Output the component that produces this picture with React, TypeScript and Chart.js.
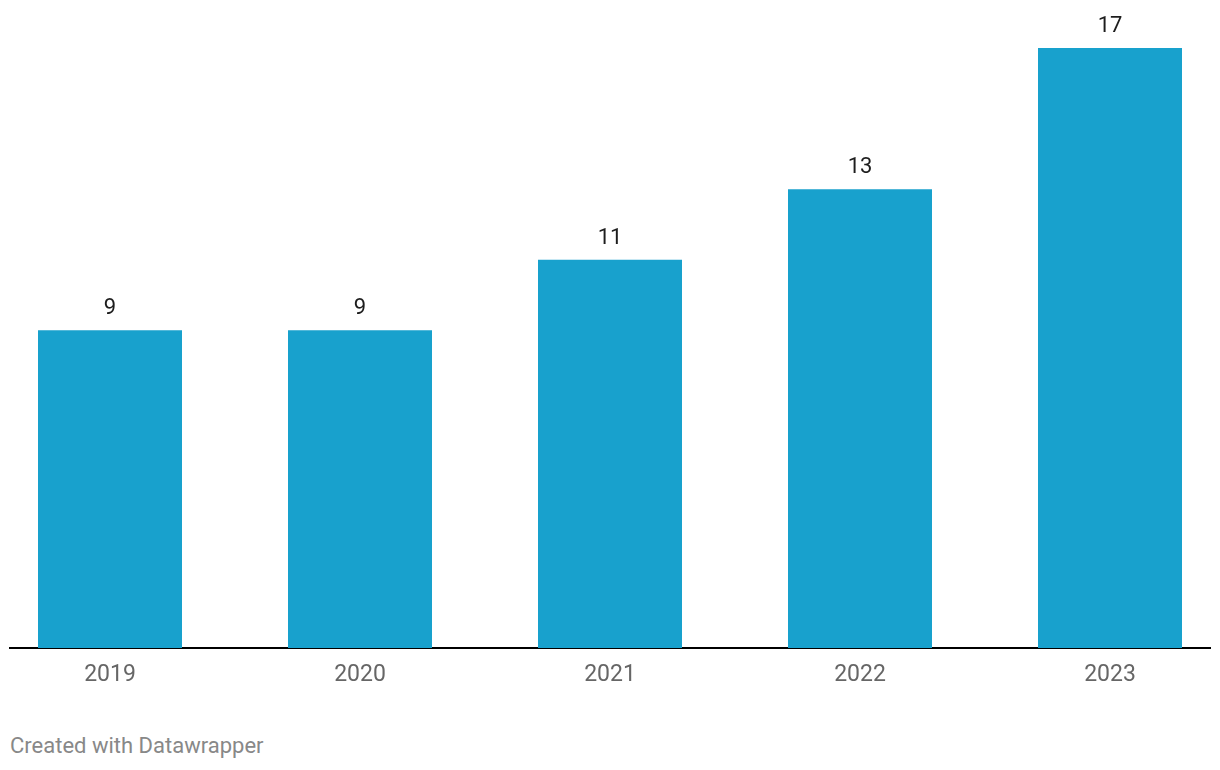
import React, { useEffect, useRef } from "react";
import { Chart, registerables } from "chart.js";

Chart.register(...registerables);

const categories = ["2019", "2020", "2021", "2022", "2023"];
const values = [9, 9, 11, 13, 17];
const barColor = "#18a1cd";

const valueLabels = {
  id: "valueLabels",
  afterDatasetsDraw(chart: any) {
    const ctx = chart.ctx;
    const meta = chart.getDatasetMeta(0);
    ctx.save();
    ctx.font = "22px Roboto";
    ctx.fillStyle = "#1d1d1d";
    ctx.textAlign = "center";
    ctx.textBaseline = "alphabetic";
    meta.data.forEach((bar: any, i: number) => {
      ctx.fillText(String(values[i]), bar.x, bar.y - 16);
    });
    ctx.restore();
  },
};

export default function App() {
  const ref = useRef<HTMLCanvasElement | null>(null);
  useEffect(() => {
    document.body.style.margin = "0";
    const chart = new Chart(ref.current as HTMLCanvasElement, {
      type: "bar",
      data: {
        datasets: [
          {
            data: values.map((v, i) => ({ x: i, y: v })),
            backgroundColor: barColor,
            categoryPercentage: 1,
            barPercentage: 0.576,
          },
        ],
      },
      options: {
        animation: false,
        responsive: false,
        devicePixelRatio: 1,
        layout: { padding: { left: 10, right: 10, top: 0, bottom: 0 } },
        plugins: { legend: { display: false }, tooltip: { enabled: false } },
        scales: {
          x: {
            type: "linear",
            min: -0.4,
            max: 4.4,
            offset: false,
            grid: { display: false, drawTicks: false, offset: false },
            border: { display: true, color: "#000", width: 2 },
            afterBuildTicks: (scale: any) => {
              scale.ticks = categories.map((_, i) => ({ value: i }));
            },
            afterFit: (scale: any) => {
              scale.height = 52;
            },
            ticks: {
              padding: 13,
              color: "#666",
              font: { family: "Roboto", size: 23 },
              callback: (v: any) => categories[v as number] ?? "",
              autoSkip: false,
              maxRotation: 0,
            },
          },
          y: {
            display: false,
            min: 0,
            max: 18.36,
          },
        },
      },
      plugins: [valueLabels],
    });
    return () => chart.destroy();
  }, []);
  return (
    <div style={{ width: 1220, height: 770, position: "relative", background: "#fff" }}>
      <canvas ref={ref} width={1220} height={700} style={{ display: "block" }} />
      <div
        style={{
          position: "absolute",
          left: 10,
          top: 734,
          fontFamily: "Roboto",
          fontSize: 22,
          color: "#888",
          lineHeight: "24px",
        }}
      >
        Created with Datawrapper
      </div>
    </div>
  );
}
